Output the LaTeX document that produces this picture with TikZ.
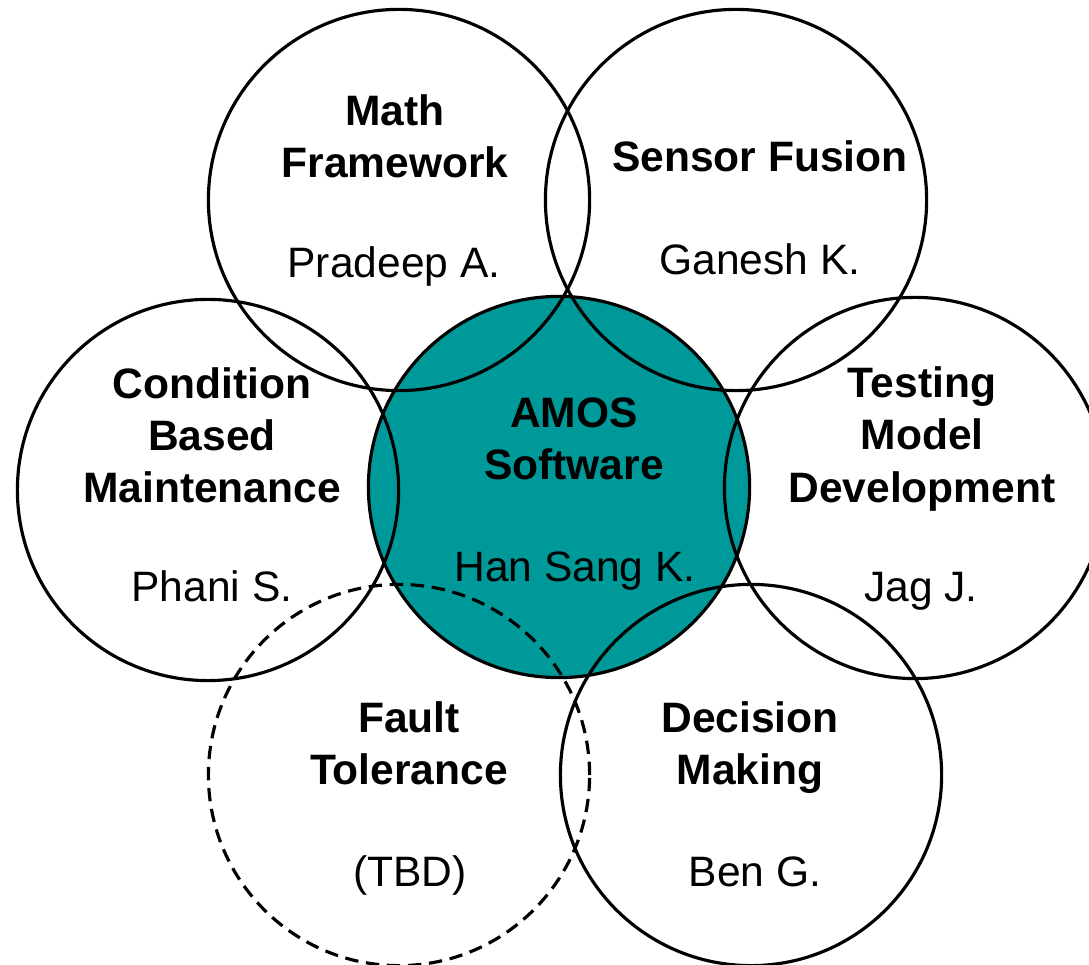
\documentclass[tikz,border=0pt]{standalone}
\usepackage{fontspec}
\setmainfont{Liberation Sans}
\usetikzlibrary{positioning}
\definecolor{amosteal}{RGB}{0,153,153}

\tikzset{
    blob/.style={circle, draw=black, line width=0.9pt, minimum size=3.81cm, inner sep=0pt},
    tbdblob/.style={blob, dash pattern=on 3.8pt off 2.2pt},
    title/.style={align=center, font=\fontsize{12.1}{14.8}\selectfont\bfseries, inner sep=0pt},
    person/.style={anchor=base, font=\fontsize{12.1}{14.8}\selectfont, inner sep=0pt}
}

\begin{document}
\begin{tikzpicture}[x=0.01cm, y=-0.01cm]
        \useasboundingbox (0,0) rectangle (1089,965);
        \clip (0,0) rectangle (1089,965);
        % the core circle goes first so the others show on top of it
        \node[blob, fill=amosteal] (amos) at (559,487) {};
        \node[blob] (math) at (399,200) {};
        \node[blob] (sensor) at (736,200) {};
        \node[blob] (cbm) at (208,490) {};
        \node[blob] (testing) at (915,488) {};
        \node[tbdblob] (fault) at (399,775) {};
        \node[blob] (decision) at (751,775) {};

        % topics
        \node[title] (mathT) at (395,136) {Math\\Framework};
        \node[title, anchor=base] (sensorT) at (760,172) {Sensor Fusion};
        \node[title] (cbmT) at (212,435) {Condition\\Based\\Maintenance};
        \node[title] (amosT) at (574,439) {AMOS\\Software};
        \node[title] (testingT) at (922,439) {Testing\\Model\\Development};
        \node[title] (faultT) at (409,743) {Fault\\Tolerance};
        \node[title] (decisionT) at (750,748) {Decision\\Making};

        % people
        \node[person] (mathP) at (394,278) {Pradeep A.};
        \node[person] (sensorP) at (760,275) {Ganesh K.};
        \node[person] (cbmP) at (212,602) {Phani S.};
        \node[person] (amosP) at (575,582) {Han Sang K.};
        \node[person] (testingP) at (921,602) {Jag J.};
        \node[person] (faultP) at (410,886) {(TBD)};
        \node[person] (decisionP) at (755,886) {Ben G.};
    \end{tikzpicture}
\end{document}
